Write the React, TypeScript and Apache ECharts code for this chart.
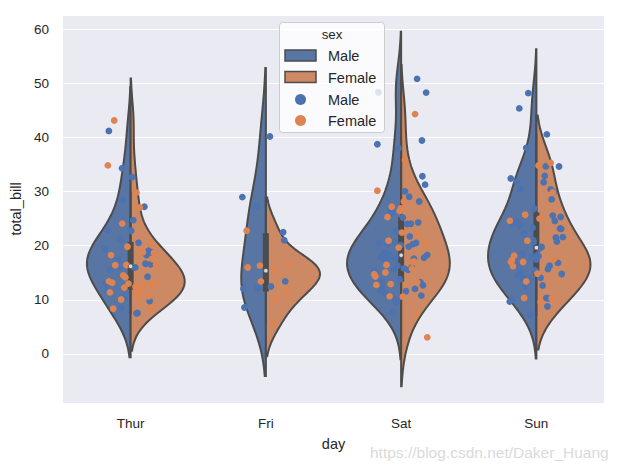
import React, { useEffect, useRef } from "react";
import * as echarts from "echarts";

// ---- data (tips: total_bill by day and sex) ----
const days = ["Thur", "Fri", "Sat", "Sun"];
const sexes = ["Male", "Female"];

const thurMale = [27.2, 22.76, 17.29, 19.44, 16.66, 32.68, 15.98, 13.03, 18.28, 24.71, 21.16, 11.69, 14.26, 15.95, 8.52, 22.82, 19.08, 16.0, 34.3, 41.19, 9.78, 7.51, 28.44, 15.48, 16.58, 7.56, 10.34, 13.51, 18.71, 20.53];
const thurFemale = [10.07, 34.83, 10.65, 12.43, 24.08, 13.42, 12.48, 29.8, 14.52, 11.38, 20.27, 11.17, 12.26, 18.26, 8.51, 10.33, 14.15, 13.16, 17.47, 27.05, 16.43, 8.35, 18.64, 11.87, 19.81, 43.11, 13.0, 12.74, 13.0, 16.4, 16.47, 18.78];
const friMale = [28.97, 22.49, 40.17, 27.28, 12.03, 21.01, 12.46, 12.16, 8.58, 13.42];
const friFemale = [5.75, 16.32, 22.75, 11.35, 15.38, 13.42, 15.98, 16.27, 10.09];
const satMale = [20.65, 17.92, 39.42, 19.82, 17.81, 13.37, 12.69, 21.7, 9.55, 18.35, 17.78, 24.06, 16.31, 18.69, 31.27, 16.04, 38.01, 11.24, 48.27, 20.29, 13.81, 11.02, 18.29, 17.59, 20.08, 20.23, 15.01, 12.02, 10.51, 17.92, 15.36, 20.49, 25.21, 18.24, 14.0, 50.81, 15.81, 26.59, 38.73, 24.27, 30.06, 25.89, 48.33, 28.15, 11.59, 7.74, 20.45, 13.28, 24.01, 15.69, 11.61, 10.77, 15.53, 10.07, 12.6, 32.83, 29.03, 22.67, 17.82];
const satFemale = [20.29, 15.77, 19.65, 15.06, 20.69, 16.93, 26.41, 16.45, 3.07, 17.07, 26.86, 25.28, 14.73, 44.3, 22.42, 20.92, 14.31, 7.25, 10.59, 10.63, 12.76, 13.27, 28.17, 12.9, 30.14, 22.12, 35.83, 27.18];
const sunMale = [10.34, 21.01, 23.68, 25.29, 8.77, 26.88, 15.04, 14.78, 10.27, 15.42, 18.43, 21.58, 16.29, 17.46, 13.94, 9.68, 30.4, 18.29, 22.23, 32.4, 28.55, 18.04, 12.54, 9.94, 25.56, 19.49, 38.07, 23.95, 29.93, 14.07, 13.13, 17.26, 24.55, 19.77, 48.17, 16.49, 21.5, 12.66, 13.81, 24.52, 20.76, 31.71, 7.25, 31.85, 16.82, 32.9, 17.89, 14.48, 34.63, 34.65, 23.33, 45.35, 23.17, 40.55, 20.69, 30.46, 23.1, 15.69];
const sunFemale = [16.99, 24.59, 35.26, 14.83, 10.33, 16.97, 10.29, 34.81, 25.71, 17.31, 29.85, 25.0, 13.39, 16.21, 17.51, 9.6, 20.9, 18.15];

const billsByDay = [
  [thurMale, thurFemale],
  [friMale, friFemale],
  [satMale, satFemale],
  [sunMale, sunFemale],
];

const yMin = -9.05;
const yMax = 62.6;

// ---- styles ----
const FONT = "'Liberation Sans', Arial, sans-serif";
const TEXT = "#262626";
const GRAY = "#4c4c4c";
const violinColors = ["#5875a4", "#cc8964"];
const pointColors = ["#4c72b0", "#dd8452"];
const JITTER = 0.2;
const CUT = 2;
const GRID_N = 100;
const HALF_WIDTH = 0.4;

function kdeProfile(vals: number[]) {
  const n = vals.length;
  const mean = vals.reduce((a, b) => a + b, 0) / n;
  const sd = Math.sqrt(vals.reduce((a, b) => a + (b - mean) * (b - mean), 0) / (n - 1));
  const bw = sd * Math.pow(n, -0.2);
  const lo = Math.min(...vals) - CUT * bw;
  const hi = Math.max(...vals) + CUT * bw;
  const ys: number[] = [];
  const ds: number[] = [];
  for (let i = 0; i < GRID_N; i++) {
    const y = lo + ((hi - lo) * i) / (GRID_N - 1);
    let s = 0;
    for (const v of vals) {
      const z = (y - v) / bw;
      s += Math.exp(-0.5 * z * z);
    }
    ys.push(y);
    ds.push(s / (n * bw * Math.sqrt(2 * Math.PI)));
  }
  return { ys, ds };
}

function percentile(sorted: number[], p: number) {
  const pos = p * (sorted.length - 1);
  const lo = Math.floor(pos);
  const hi = Math.ceil(pos);
  return sorted[lo] + (sorted[hi] - sorted[lo]) * (pos - lo);
}

export default function App() {
  const ref = useRef<HTMLDivElement>(null);

  useEffect(() => {
    if (!ref.current) return;
    const chart = echarts.init(ref.current, undefined, { renderer: "svg" });

    // violin profiles, scaled per day (scale="area", scale_hue=True)
    const profiles = billsByDay.map((pair) => {
      const ps = pair.map((vals) => kdeProfile(vals));
      const maxD = Math.max(...ps.map((p) => Math.max(...p.ds)));
      return ps.map((p) => ({ ys: p.ys, ws: p.ds.map((d) => (d / maxD) * HALF_WIDTH) }));
    });

    const violinItems: number[][] = [];
    days.forEach((_, d) => sexes.forEach((__, s) => violinItems.push([d, s, 0])));

    const boxItems: number[][] = billsByDay.map((pair, d) => {
      const all = [...pair[0], ...pair[1]].sort((a, b) => a - b);
      const q25 = percentile(all, 0.25);
      const q50 = percentile(all, 0.5);
      const q75 = percentile(all, 0.75);
      const lim = 1.5 * (q75 - q25);
      const h1 = Math.min(...all.filter((v) => v >= q25 - lim));
      const h2 = Math.max(...all.filter((v) => v <= q75 + lim));
      return [d, h1, q25, q50, q75, h2];
    });

    const pointSeries = sexes.map((sex, s) => ({
      type: "scatter",
      name: sex,
      xAxisIndex: 1,
      z: 4 + s,
      symbol: "circle",
      symbolSize: 6.8,
      itemStyle: { color: pointColors[s], borderWidth: 0, opacity: 1 },
      emphasis: { disabled: true },
      data: billsByDay.flatMap((pair, d) =>
        pair[s].map((v, k) => {
          const u = ((k + 1) * 0.7548776662 + s * 0.569840291 + d * 0.31) % 1;
          return [d + (u * 2 - 1) * JITTER, v];
        })
      ),
    }));

    const legendX = 279.5;
    const legendY = 22.5;

    chart.setOption({
      animation: false,
      textStyle: { fontFamily: FONT },
      grid: {
        left: 59,
        right: 16,
        top: 15,
        bottom: 63,
        show: true,
        backgroundColor: "#eaeaf2",
        borderWidth: 0,
      },
      xAxis: [
        {
          type: "category",
          data: days,
          boundaryGap: true,
          axisLine: { show: false },
          axisTick: { show: false },
          splitLine: { show: false },
          axisLabel: { color: TEXT, fontSize: 13.5, margin: 13, fontFamily: FONT },
          name: "day",
          nameLocation: "middle",
          nameGap: 33,
          nameTextStyle: { color: TEXT, fontSize: 14.5, fontFamily: FONT },
        },
        { type: "value", min: -0.5, max: 3.5, show: false },
      ],
      yAxis: {
        type: "value",
        min: yMin,
        max: yMax,
        axisLine: { show: false },
        axisTick: { show: false },
        splitLine: { show: true, lineStyle: { color: "#ffffff", width: 1.2 } },
        axisLabel: {
          color: TEXT,
          fontSize: 13.5,
          margin: 14,
          fontFamily: FONT,
          formatter: (v: number) => (Math.abs(v - Math.round(v / 10) * 10) < 1e-6 ? String(Math.round(v)) : ""),
        },
        name: "total_bill",
        nameLocation: "middle",
        nameGap: 40,
        nameTextStyle: { color: TEXT, fontSize: 14.5, fontFamily: FONT },
      },
      series: [
        {
          type: "custom",
          name: "violin",
          xAxisIndex: 1,
          z: 2,
          data: violinItems,
          renderItem: (params: any, api: any) => {
            const d = api.value(0);
            const s = api.value(1);
            const prof = profiles[d][s];
            const sign = s === 0 ? -1 : 1;
            const n = prof.ys.length;
            const pts: number[][] = [api.coord([d, prof.ys[0]])];
            for (let i = 0; i < n; i++) pts.push(api.coord([d + sign * prof.ws[i], prof.ys[i]]));
            pts.push(api.coord([d, prof.ys[n - 1]]));
            return {
              type: "polygon",
              shape: { points: pts },
              style: { fill: violinColors[s], stroke: GRAY, lineWidth: 2, lineJoin: "miter" },
            };
          },
        },
        {
          type: "custom",
          name: "box",
          xAxisIndex: 1,
          z: 3,
          data: boxItems,
          renderItem: (params: any, api: any) => {
            const d = api.value(0);
            const a = api.coord([d, api.value(1)]);
            const b = api.coord([d, api.value(2)]);
            const c = api.coord([d, api.value(4)]);
            const e = api.coord([d, api.value(5)]);
            return {
              type: "group",
              children: [
                { type: "line", shape: { x1: a[0], y1: a[1], x2: e[0], y2: e[1] }, style: { stroke: GRAY, lineWidth: 2, lineCap: "square" } },
                { type: "line", shape: { x1: b[0], y1: b[1], x2: c[0], y2: c[1] }, style: { stroke: GRAY, lineWidth: 6, lineCap: "square" } },
              ],
            };
          },
        },
        ...pointSeries,
        {
          type: "scatter",
          name: "median",
          xAxisIndex: 1,
          z: 6,
          symbol: "circle",
          symbolSize: 4.5,
          itemStyle: { color: "#ffffff", borderColor: GRAY, borderWidth: 1 },
          emphasis: { disabled: true },
          data: boxItems.map((b) => [b[0], b[3]]),
        },
      ],
      graphic: [
        {
          type: "rect",
          z: 10,
          shape: { x: legendX, y: legendY, width: 105, height: 110, r: 3 },
          style: { fill: "rgba(255,255,255,0.8)", stroke: "#cccccc", lineWidth: 1 },
        },
        {
          type: "text",
          z: 11,
          x: 332,
          y: 34.5,
          style: { text: "sex", fill: TEXT, font: `13.3px ${FONT}`, textAlign: "center", textVerticalAlign: "middle" },
        },
        {
          type: "rect",
          z: 11,
          shape: { x: 285, y: 50, width: 31, height: 11 },
          style: { fill: violinColors[0], stroke: GRAY, lineWidth: 1.5 },
        },
        {
          type: "text",
          z: 11,
          x: 328,
          y: 56,
          style: { text: "Male", fill: TEXT, font: `14.5px ${FONT}`, textVerticalAlign: "middle" },
        },
        {
          type: "rect",
          z: 11,
          shape: { x: 285, y: 71.5, width: 31, height: 11 },
          style: { fill: violinColors[1], stroke: GRAY, lineWidth: 1.5 },
        },
        {
          type: "text",
          z: 11,
          x: 328,
          y: 77.5,
          style: { text: "Female", fill: TEXT, font: `14.5px ${FONT}`, textVerticalAlign: "middle" },
        },
        {
          type: "circle",
          z: 11,
          shape: { cx: 300.5, cy: 99.5, r: 5.5 },
          style: { fill: pointColors[0] },
        },
        {
          type: "text",
          z: 11,
          x: 328,
          y: 99.5,
          style: { text: "Male", fill: TEXT, font: `14.5px ${FONT}`, textVerticalAlign: "middle" },
        },
        {
          type: "circle",
          z: 11,
          shape: { cx: 300.5, cy: 120.5, r: 5.5 },
          style: { fill: pointColors[1] },
        },
        {
          type: "text",
          z: 11,
          x: 328,
          y: 121,
          style: { text: "Female", fill: TEXT, font: `14.5px ${FONT}`, textVerticalAlign: "middle" },
        },
        {
          type: "text",
          z: 11,
          x: 370,
          y: 452,
          style: { text: "https://blog.csdn.net/Daker_Huang", fill: "#dadada", font: `15.5px ${FONT}`, textVerticalAlign: "middle" },
        },
      ],
    });

    return () => chart.dispose();
  }, []);

  return (
    <div
      ref={ref}
      style={{ position: "fixed", left: 0, top: 0, width: 620, height: 466, background: "#ffffff" }}
    />
  );
}
